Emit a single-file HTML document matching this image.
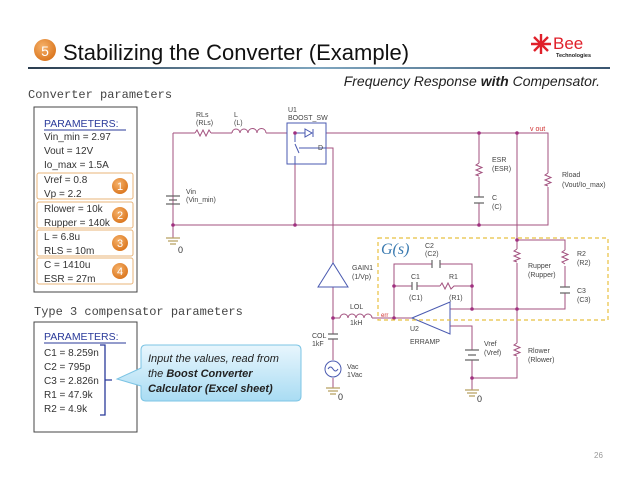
<!DOCTYPE html>
<html><head><meta charset="utf-8"><style>
body{margin:0;background:#fff;width:638px;height:479px;overflow:hidden}
svg{display:block}
.s{font-family:"Liberation Sans",sans-serif;font-size:7px;fill:#444}
.p{font-family:"Liberation Sans",sans-serif;font-size:10px;fill:#333}
</style></head><body>
<svg width="638" height="479" viewBox="0 0 638 479" xmlns="http://www.w3.org/2000/svg">
<defs>
<linearGradient id="hl" x1="0" x2="1"><stop offset="0" stop-color="#2b3d4f"/><stop offset="0.5" stop-color="#7fa6bf"/><stop offset="1" stop-color="#3a5570"/></linearGradient>
<linearGradient id="cb" x1="0" y1="0" x2="0" y2="1"><stop offset="0" stop-color="#e8f6fd"/><stop offset="1" stop-color="#a9dcf3"/></linearGradient>
<radialGradient id="oc" cx="0.4" cy="0.35" r="0.7"><stop offset="0" stop-color="#f6b26b"/><stop offset="1" stop-color="#d9731a"/></radialGradient>
</defs>
<!-- header -->
<circle cx="45" cy="50" r="11" fill="url(#oc)"/>
<text x="45" y="56" text-anchor="middle" font-family="Liberation Sans" font-size="14" fill="#fff">5</text>
<text x="63" y="60" font-family="Liberation Sans" font-size="22" fill="#111">Stabilizing the Converter  (Example)</text>
<g stroke="#e0202a" stroke-width="2.4"><line x1="531" y1="44" x2="551" y2="44"/><line x1="541" y1="34" x2="541" y2="54"/><line x1="534" y1="37" x2="548" y2="51"/><line x1="548" y1="37" x2="534" y2="51"/></g>
<text x="553" y="49" font-family="Liberation Sans" font-size="17" fill="#e0202a">Bee</text>
<text x="556" y="57" font-family="Liberation Sans" font-size="5.5" font-weight="bold" fill="#222">Technologies</text>
<rect x="28" y="67" width="582" height="2" fill="url(#hl)"/>
<text x="600" y="86" text-anchor="end" font-family="Liberation Sans" font-size="14" font-style="italic" fill="#222">Frequency Response <tspan font-weight="bold">with</tspan> Compensator.</text>
<text x="28" y="98" font-family="Liberation Mono" font-size="12" fill="#444">Converter parameters</text>
<!-- box1 -->
<rect x="34" y="107" width="103" height="185" fill="#fff" stroke="#444" stroke-width="1"/>
<text x="44" y="127" font-family="Liberation Sans" font-size="10.5" fill="#2a3a9a">PARAMETERS:</text>
<line x1="44" y1="130" x2="126" y2="130" stroke="#2a3a9a"/>
<g class="p"><text x="44" y="140" class="p">Vin_min = 2.97</text><text x="44" y="154" class="p">Vout = 12V</text><text x="44" y="168" class="p">Io_max = 1.5A</text>
<text x="44" y="183" class="p">Vref = 0.8</text><text x="44" y="197" class="p">Vp = 2.2</text>
<text x="44" y="212" class="p">Rlower = 10k</text><text x="44" y="226" class="p">Rupper = 140k</text>
<text x="44" y="240" class="p">L = 6.8u</text><text x="44" y="254" class="p">RLS = 10m</text>
<text x="44" y="268" class="p">C = 1410u</text><text x="44" y="282" class="p">ESR = 27m</text></g>
<g fill="none" stroke="#e8b47a"><rect x="37" y="173" width="96" height="26" rx="2"/><rect x="37" y="202" width="96" height="26" rx="2"/><rect x="37" y="230" width="96" height="26" rx="2"/><rect x="37" y="258" width="96" height="26" rx="2"/></g>
<g font-family="Liberation Sans" font-size="11" fill="#fff" text-anchor="middle">
<circle cx="120" cy="186" r="8" fill="url(#oc)"/><text x="120" y="190">1</text>
<circle cx="120" cy="215" r="8" fill="url(#oc)"/><text x="120" y="219">2</text>
<circle cx="120" cy="243" r="8" fill="url(#oc)"/><text x="120" y="247">3</text>
<circle cx="120" cy="271" r="8" fill="url(#oc)"/><text x="120" y="275">4</text></g>
<text x="34" y="315" font-family="Liberation Mono" font-size="12" fill="#444">Type 3 compensator parameters</text>
<!-- box2 -->
<rect x="34" y="322" width="103" height="110" fill="#fff" stroke="#444"/>
<text x="44" y="340" font-family="Liberation Sans" font-size="10.5" fill="#2a3a9a">PARAMETERS:</text>
<line x1="44" y1="343" x2="126" y2="343" stroke="#2a3a9a"/>
<text x="44" y="356" class="p">C1 = 8.259n</text><text x="44" y="370" class="p">C2 = 795p</text><text x="44" y="384" class="p">C3 = 2.826n</text><text x="44" y="398" class="p">R1 = 47.9k</text><text x="44" y="412" class="p">R2 = 4.9k</text>
<path d="M100 345 H105 V415 H100 M105 380 H112" fill="none" stroke="#2a3a9a" stroke-width="1.3"/>
<!-- callout -->
<path d="M146 345 H296 Q301 345 301 350 V396 Q301 401 296 401 H146 Q141 401 141 396 V386 L117 379 L141 368 V350 Q141 345 146 345 Z" fill="url(#cb)" stroke="#7cc4e4"/>
<g font-family="Liberation Sans" font-size="11" font-style="italic" fill="#222">
<text x="148" y="362">Input the values, read from</text>
<text x="148" y="377">the <tspan font-weight="bold">Boost Converter</tspan></text>
<text x="148" y="392" font-weight="bold">Calculator (Excel sheet)</text></g>
<!-- circuit wires -->
<g fill="none" stroke="#a3527f" stroke-width="1">
<path d="M173 133 H195 M211 133 H232 M266 133 H287 M326 133 H548 V173 M548 187 V225 H173 V196 M173 204 V133"/>
<path d="M173 225 V238"/>
<path d="M326 148 H333 V263"/>
<path d="M295 164 V225"/>
<path d="M479 133 V163 M479 177 V197 M479 203 V225"/>
<path d="M517 133 V249 M517 263 V343 M517 357 V378 H472 V360 M472 350 V326 H450"/>
<path d="M472 378 V390"/>
<path d="M517 240 H565 V250 M565 266 V287 M565 293 V309 H472 V264 H440 M432 264 H394 V318"/>
<path d="M394 286 H412 M417 286 H440 M456 286 H472"/>
<path d="M450 309 H472"/>
<path d="M333 286 V318 M333 318 H340 M372 318 H412 M333 318 V334 M333 339 V360 M333 378 V388"/>
<path d="M195 133 l2 -3 l3 6 l3 -6 l3 6 l3 -6 l2 3"/>
<path d="M232 133 a4 4 0 0 1 8 0 a4 4 0 0 1 8 0 a4 4 0 0 1 9 0 a4 4 0 0 1 9 0"/>
<path d="M479 163 l-3 2 l6 2.5 l-6 2.5 l6 2.5 l-6 2.5 l3 1"/>
<path d="M548 173 l-3 2 l6 2.5 l-6 2.5 l6 2.5 l-6 2.5 l3 1"/>
<path d="M517 249 l-3 2 l6 2.5 l-6 2.5 l6 2.5 l-6 2.5 l3 1"/>
<path d="M517 343 l-3 2 l6 2.5 l-6 2.5 l6 2.5 l-6 2.5 l3 1"/>
<path d="M565 250 l-3 2 l6 2.5 l-6 2.5 l6 2.5 l-6 2.5 l3 2"/>
<path d="M440 286 l2 -3 l3 6 l3 -6 l3 6 l3 -3 h2"/>
<path d="M340 318 a4 4 0 0 1 8 0 a4 4 0 0 1 8 0 a4 4 0 0 1 8 0 a4 4 0 0 1 8 0"/>
</g>
<g stroke="#666" stroke-width="1.2" fill="none">
<path d="M474 197 H484 M474 203 H484"/><path d="M432 260 V268 M440 260 V268"/><path d="M412 282 V290 M417 282 V290"/>
<path d="M560 287 H570 M560 293 H570"/><path d="M328 334 H338 M328 339 H338"/>
<path d="M166 196 H180 M169 200 H177 M166 204 H180"/><path d="M465 350 H479 M468 355 H476 M465 360 H479"/>
</g>
<!-- grounds -->
<g stroke="#b8a060" stroke-width="1.2"><path d="M166 238 H180 M168 241 H178 M170 244 H176"/><path d="M326 388 H340 M328 391 H338 M330 394 H336"/><path d="M465 390 H479 M467 393 H477 M469 396 H475"/></g>
<g font-family="Liberation Sans" font-size="9" fill="#333"><text x="178" y="253">0</text><text x="338" y="400">0</text><text x="477" y="402">0</text></g>
<!-- U1 -->
<rect x="287" y="123" width="39" height="41" fill="none" stroke="#4a5ab0"/>
<path d="M305 129 V137 L312 133 Z M313 129 V137" fill="none" stroke="#4a5ab0"/>
<path d="M295 133 H305 M295 133 V142 M295 144 L299 153 M295 156 V164 M299 148 H326" fill="none" stroke="#4a5ab0"/>
<!-- opamp and gain -->
<path d="M412 318 L450 302 L450 334 Z" fill="#fff" stroke="#4a5ab0"/>
<path d="M333 263 L318 287 L348 287 Z" fill="#fff" stroke="#4a5ab0"/>
<circle cx="333" cy="369" r="8" fill="#fff" stroke="#4a5ab0"/>
<path d="M328 369 q2.5 -4 5 0 q2.5 4 5 0" fill="none" stroke="#4a5ab0"/>
<!-- nodes -->
<g fill="#a03080"><circle cx="295" cy="133" r="1.8"/><circle cx="295" cy="225" r="1.8"/><circle cx="173" cy="225" r="1.8"/><circle cx="479" cy="133" r="1.8"/><circle cx="479" cy="225" r="1.8"/><circle cx="517" cy="133" r="1.8"/><circle cx="517" cy="240" r="1.8"/><circle cx="517" cy="309" r="1.8"/><circle cx="472" cy="309" r="1.8"/><circle cx="394" cy="286" r="1.8"/><circle cx="472" cy="286" r="1.8"/><circle cx="394" cy="318" r="1.8"/><circle cx="333" cy="318" r="1.8"/><circle cx="472" cy="378" r="1.8"/></g>
<!-- dashed box -->
<rect x="378" y="238" width="230" height="82" fill="none" stroke="#e8c040" stroke-dasharray="4 3" stroke-width="1.2"/>
<text x="381" y="254" font-family="Liberation Serif" font-size="16" font-style="italic" fill="#3a7ab0">G(s)</text>
<!-- labels -->
<g class="s">
<text x="196" y="117" class="s">RLs</text><text x="196" y="125" class="s">(RLs)</text>
<text x="234" y="117" class="s">L</text><text x="234" y="125" class="s">(L)</text>
<text x="288" y="112" class="s">U1</text><text x="288" y="120" class="s">BOOST_SW</text>
<text x="318" y="150" class="s">D</text>
<text x="186" y="194" class="s">Vin</text><text x="186" y="202" class="s">(Vin_min)</text>
<text x="492" y="162" class="s">ESR</text><text x="492" y="171" class="s">(ESR)</text>
<text x="492" y="200" class="s">C</text><text x="492" y="209" class="s">(C)</text>
<text x="562" y="177" class="s">Rload</text><text x="562" y="187" class="s">(Vout/Io_max)</text>
<text x="425" y="248" class="s">C2</text><text x="425" y="256" class="s">(C2)</text>
<text x="411" y="279" class="s">C1</text><text x="449" y="279" class="s">R1</text>
<text x="409" y="300" class="s">(C1)</text><text x="449" y="300" class="s">(R1)</text>
<text x="352" y="270" class="s">GAIN1</text><text x="352" y="279" class="s">(1/Vp)</text>
<text x="350" y="309" class="s">LOL</text><text x="350" y="325" class="s">1kH</text>
<text x="312" y="338" class="s">COL</text><text x="312" y="346" class="s">1kF</text>
<text x="347" y="369" class="s">Vac</text><text x="347" y="377" class="s">1Vac</text>
<text x="410" y="331" class="s">U2</text><text x="410" y="344" class="s">ERRAMP</text>
<text x="484" y="346" class="s">Vref</text><text x="484" y="355" class="s">(Vref)</text>
<text x="528" y="268" class="s">Rupper</text><text x="528" y="277" class="s">(Rupper)</text>
<text x="528" y="353" class="s">Rlower</text><text x="528" y="362" class="s">(Rlower)</text>
<text x="577" y="256" class="s">R2</text><text x="577" y="265" class="s">(R2)</text>
<text x="577" y="293" class="s">C3</text><text x="577" y="302" class="s">(C3)</text>
</g>
<text x="530" y="131" font-family="Liberation Sans" font-size="7" fill="#d03030">v out</text>
<text x="381" y="317" font-family="Liberation Sans" font-size="6" fill="#d03030">err</text>
<text x="594" y="458" font-family="Liberation Sans" font-size="8" fill="#999">26</text>
</svg>
</body></html>
